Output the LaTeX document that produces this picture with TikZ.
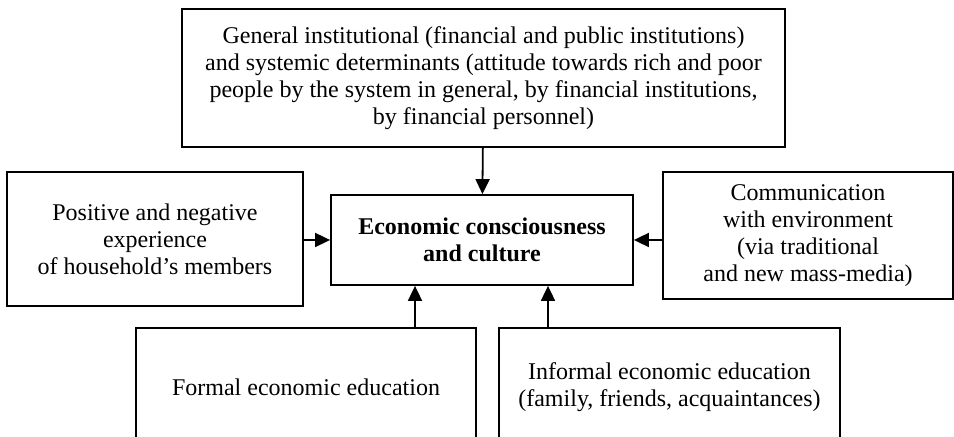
\documentclass[tikz,border=0pt]{standalone}
\usepackage{fontspec}
\setmainfont{Liberation Serif}
\usepackage{tikz}
\usetikzlibrary{arrows.meta,positioning}

\begin{document}
\begin{tikzpicture}[
        x=0.5pt, y=-0.5pt,
        every node/.style={font=\fontsize{12}{13.5}\selectfont},
        box/.style={rectangle, draw, line width=0.9pt, align=center, inner sep=0pt},
        arrow/.style={-{Triangle[length=7.5pt,width=7pt]}, line width=0.9pt}
    ]
        \clip (0,0) rectangle (954,437);
        \useasboundingbox (0,0) rectangle (954,437);

        \node[box, minimum width=301.5pt, minimum height=69pt] (gen) at (483.5,78)
            {General institutional (financial and public institutions)\\
             and systemic determinants (attitude towards rich and poor\\
             people by the system in general, by financial institutions,\\
             by financial personnel)};
        \node[box, minimum width=151pt, minimum height=45pt, font=\fontsize{12}{13.5}\selectfont\bfseries] (cen) at (482,240)
            {Economic consciousness\\ and culture};
        \node[box, minimum width=148pt, minimum height=67pt] (exp) at (155,239)
            {Positive and negative\\ experience\\ of household's members};
        \node[box, minimum width=145pt, minimum height=63.5pt] (comm) at (808,235.5)
            {Communication\\ with environment\\ (via traditional\\ and new mass-media)};
        \node[box, minimum width=170pt, minimum height=59pt] (formal) at (306,387)
            {Formal economic education};
        \node[box, minimum width=170.5pt, minimum height=59pt] (informal) at (669.5,387)
            {Informal economic education\\ (family, friends, acquaintances)};

        % arrows from the bottom boxes enter off-centre
        \coordinate (inL) at ([xshift=-33.5pt]cen.south);
        \coordinate (inR) at ([xshift=33pt]cen.south);

        \draw[arrow] (gen) -- (cen);
        \draw[arrow] (exp.east |- cen.west) -- (cen.west);
        \draw[arrow] (comm.west |- cen.east) -- (cen.east);
        \draw[arrow] (formal.north -| inL) -- (inL);
        \draw[arrow] (informal.north -| inR) -- (inR);
    \end{tikzpicture}
\end{document}
